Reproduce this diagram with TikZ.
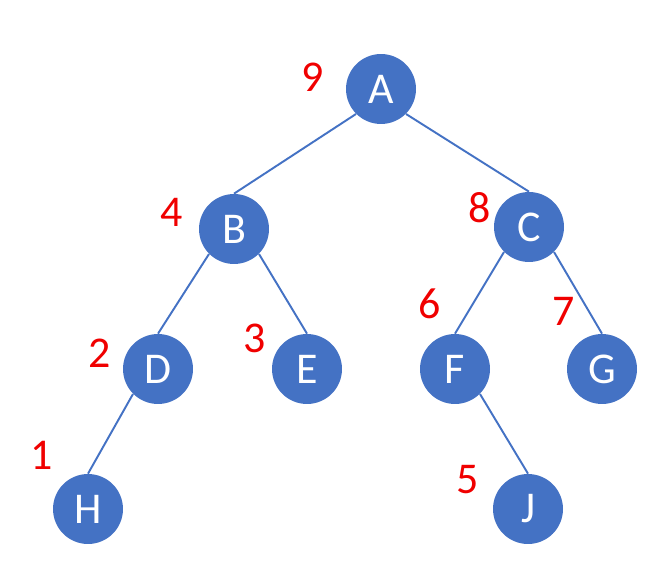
\documentclass[tikz,border=0pt]{standalone}
\usepackage{fontspec}
\setmainfont{Carlito}
\definecolor{nodeblue}{HTML}{4472C4}
\definecolor{ordred}{HTML}{F00000}

\begin{document}
\begin{tikzpicture}[x = 0.02cm, y = -0.02cm,
    vert/.style = {circle, fill = nodeblue, text = white, minimum size = 1.4cm,
                   inner sep = 0pt, font = \fontsize{25}{30}\selectfont},
    ord/.style = {text = ordred, inner sep = 0pt, font = \fontsize{25}{30}\selectfont},
    edge/.style = {draw = nodeblue, line width = 1.1pt}]
    % Canvas
    \useasboundingbox (0,0) rectangle (662,577);

    % Vertices
    \node[vert] (A) at (381,89) {A};
    \node[vert] (B) at (234,229) {B};
    \node[vert] (C) at (529,227) {C};
    \node[vert] (D) at (158,369) {D};
    \node[vert] (E) at (307,369) {E};
    \node[vert] (F) at (455,369) {F};
    \node[vert] (G) at (602,369) {G};
    \node[vert] (H) at (88,509) {H};
    \node[vert] (J) at (528,509) {J};

    % Edges (parent's lower side to child's top)
    \draw[edge] (A.south west) -- (B.north);
    \draw[edge] (A.south east) -- (C.north);
    \draw[edge] (B.south west) -- (D.north);
    \draw[edge] (B.south east) -- (E.north);
    \draw[edge] (C.south west) -- (F.north);
    \draw[edge] (C.south east) -- (G.north);
    \draw[edge] (D.south west) -- (H.north);
    \draw[edge] (F.south east) -- (J.north);

    % Visit order
    \node[ord] (n9) at (313,77) {9};
    \node[ord] (n4) at (172,212) {4};
    \node[ord] (n8) at (480,208) {8};
    \node[ord] (n2) at (100,353) {2};
    \node[ord] (n3) at (255,338) {3};
    \node[ord] (n6) at (430,304) {6};
    \node[ord] (n7) at (564,311) {7};
    \node[ord] (n1) at (42,455) {1};
    \node[ord] (n5) at (468,480) {5};
\end{tikzpicture}
\end{document}
